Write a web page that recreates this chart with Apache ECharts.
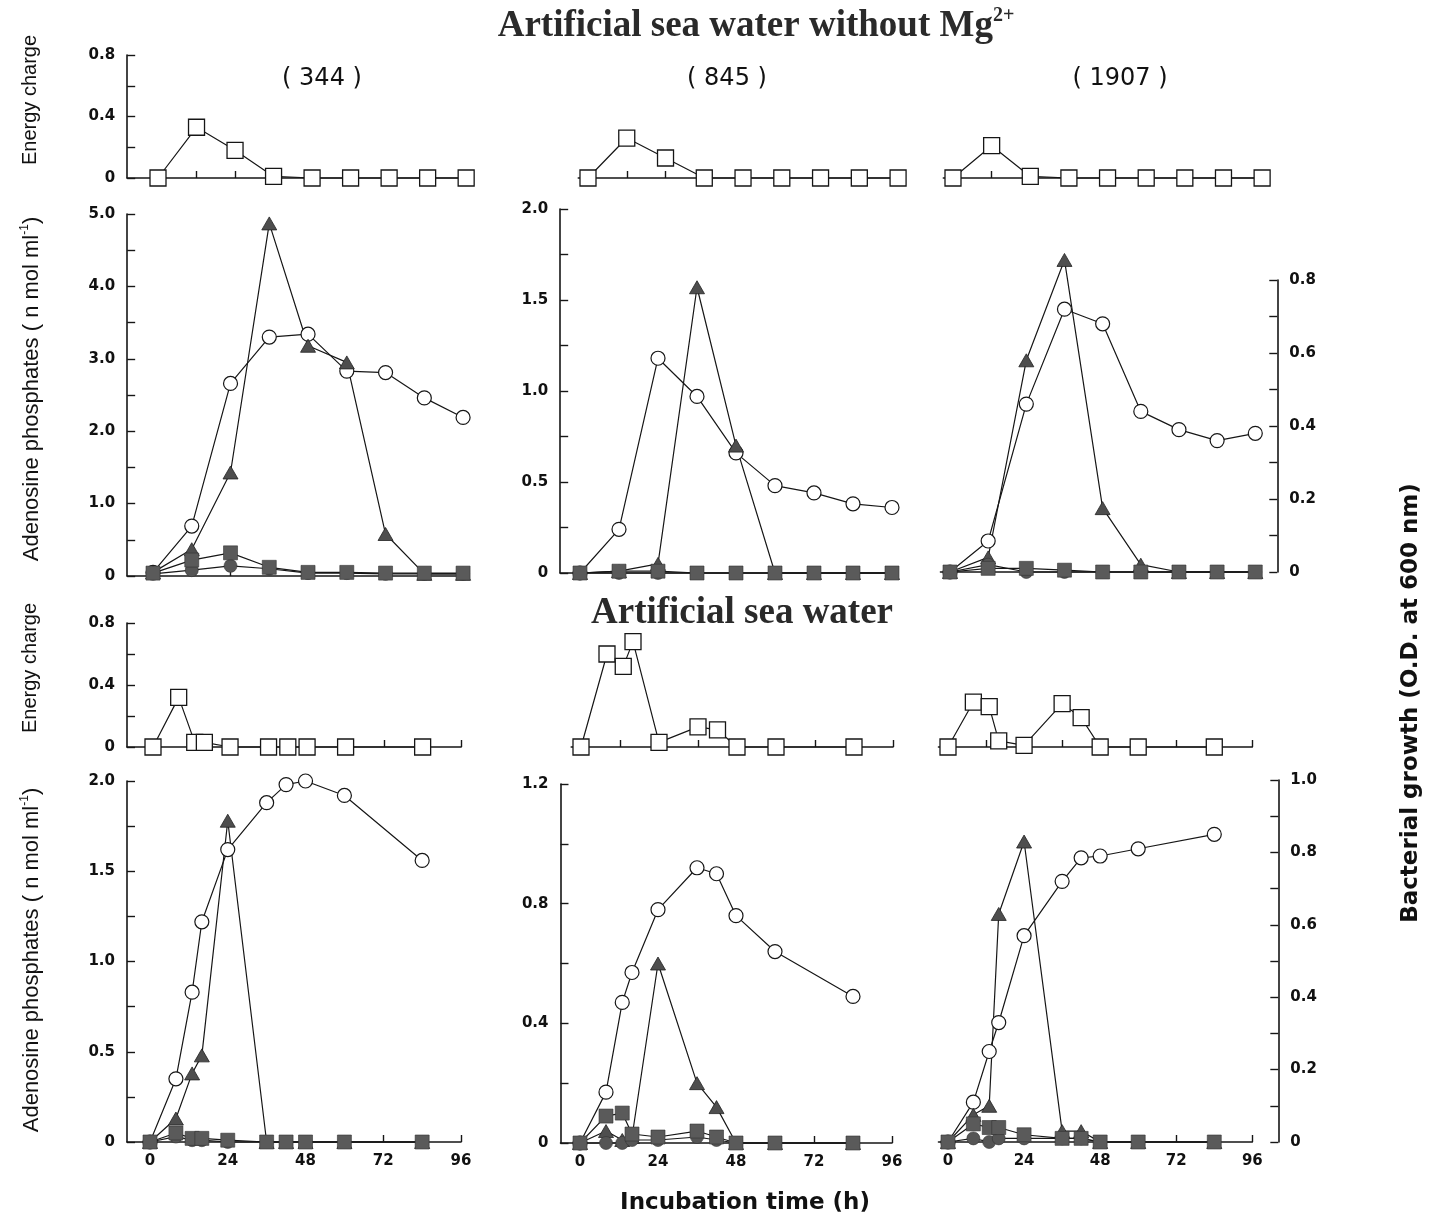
<!DOCTYPE html>
<html><head><meta charset="utf-8">
<script src="https://cdn.jsdelivr.net/npm/echarts@6/dist/echarts.min.js"></script>
<style>html,body{margin:0;padding:0;background:#fff}#c{width:1433px;height:1220px}</style>
</head><body><div id="c"></div>
<script>
// ---------- DATA ----------
const hoursMgFree = [0, 12, 24, 36, 48, 60, 72, 84, 96];
const hoursASW = [0, 8, 13, 16, 24, 36, 42, 48, 60, 84];
const strains = ['( 344 )', '( 845 )', '( 1907 )'];
const xTickLabels = [0, 24, 48, 72, 96];

// Energy charge, artificial sea water without Mg2+
const ecMg344 = [0, 0.33, 0.18, 0.01, 0, 0, 0, 0, 0];
const ecMg845 = [0, 0.26, 0.13, 0, 0, 0, 0, 0, 0];
const ecMg1907 = [0, 0.21, 0.01, 0, 0, 0, 0, 0, 0];
// Energy charge, artificial sea water
const ecAsw344 = [0, 0.32, 0.03, 0.03, 0, 0, 0, 0, 0, 0];
const ecAsw845 = [0, 0.60, 0.52, 0.68, 0.03, 0.13, 0.11, 0, 0, 0];
const ecAsw1907 = [0, 0.29, 0.26, 0.04, 0.01, 0.28, 0.19, 0, 0, 0];

// Without Mg2+ : open circle (growth), filled triangle, filled square, filled circle
const growthMg344 = [0.05, 0.69, 2.66, 3.30, 3.34, 2.83, 2.81, 2.46, 2.19];
const triMg344 = [0.05, 0.37, 1.43, 4.87, 3.18, 2.95, 0.58, 0.03, 0.03];
const sqMg344 = [0.04, 0.22, 0.32, 0.12, 0.05, 0.05, 0.04, 0.04, 0.04];
const dotMg344 = [0.03, 0.08, 0.14, 0.10, 0.04, 0.04, 0.03, 0.03, 0.03];

const growthMg845 = [0, 0.24, 1.18, 0.97, 0.66, 0.48, 0.44, 0.38, 0.36];
const triMg845 = [0, 0.01, 0.05, 1.57, 0.70, 0, 0, 0, 0];
const sqMg845 = [0, 0.01, 0.01, 0, 0, 0, 0, 0, 0];
const dotMg845 = [0, 0, 0, 0, 0, 0, 0, 0, 0];

const growthMg1907 = [0, 0.085, 0.46, 0.72, 0.68, 0.44, 0.39, 0.36, 0.38];
const triMg1907 = [0, 0.04, 0.58, 0.855, 0.175, 0.02, 0, 0, 0];
const sqMg1907 = [0, 0.01, 0.01, 0.005, 0, 0, 0, 0, 0];
const dotMg1907 = [0, 0.02, 0, 0, 0, 0, 0, 0, 0];

// Artificial sea water
const growthAsw344 = [0, 0.35, 0.83, 1.22, 1.62, 1.88, 1.98, 2.0, 1.92, 1.56];
const triAsw344 = [0, 0.13, 0.38, 0.48, 1.78, 0, 0, 0, 0, 0];
const sqAsw344 = [0, 0.05, 0.02, 0.02, 0.01, 0, 0, 0, 0, 0];
const dotAsw344 = [0, 0.03, 0.01, 0.01, 0, 0, 0, 0, 0, 0];

const growthAsw845 = [0, 0.17, 0.47, 0.57, 0.78, 0.92, 0.90, 0.76, 0.64, 0.49];
const triAsw845 = [0, 0.04, 0.01, 0.02, 0.60, 0.20, 0.12, 0, 0, 0];
const sqAsw845 = [0, 0.09, 0.10, 0.03, 0.02, 0.04, 0.02, 0, 0, 0];
const dotAsw845 = [0, 0, 0, 0.01, 0.01, 0.02, 0.01, 0, 0, 0];

const growthAsw1907 = [0, 0.11, 0.25, 0.33, 0.57, 0.72, 0.785, 0.79, 0.81, 0.85];
const triAsw1907 = [0, 0.075, 0.10, 0.63, 0.83, 0.03, 0.03, 0, 0, 0];
const sqAsw1907 = [0, 0.05, 0.04, 0.04, 0.02, 0.01, 0.01, 0, 0, 0];
const dotAsw1907 = [0, 0.01, 0, 0.01, 0.01, 0.01, 0.01, 0, 0, 0];

// ---------- LAYOUT ----------
const SANS = '"Liberation Sans", Arial, Helvetica, sans-serif';
const WIDE = '"DejaVu Sans", Verdana, sans-serif';
const SERIF = '"Liberation Serif", "Times New Roman", serif';
const INK = '#161616';

const panels = [
  // row A: energy charge (without Mg)
  {x0:158, s:3.21, xMin:-9.6, top:55, bottom:178, yMax:0.8, yInt:0.2, lab:0.4, yShow:'left', xTicks:12, xLab:false,
   sets:[['ec', hoursMgFree, ecMg344]]},
  {x0:588, s:3.23, xMin:-3, top:55, bottom:178, yMax:0.8, yInt:0.2, lab:0.4, yShow:null, xTicks:12, xLab:false,
   sets:[['ec', hoursMgFree, ecMg845]]},
  {x0:953, s:3.22, xMin:-3, top:55, bottom:178, yMax:0.8, yInt:0.2, lab:0.4, yShow:null, xTicks:12, xLab:false,
   sets:[['ec', hoursMgFree, ecMg1907]]},
  // row B: adenosine phosphates (without Mg)
  {x0:153, s:3.23, xMin:-8, top:214, bottom:576, yMax:5.0, yInt:0.5, lab:1.0, yShow:'left', xTicks:24, xLab:false,
   sets:[['od', hoursMgFree, growthMg344], ['tri', hoursMgFree, triMg344], ['dot', hoursMgFree, dotMg344], ['sq', hoursMgFree, sqMg344]]},
  {x0:580, s:3.25, xMin:-6.1, top:209, bottom:573, yMax:2.0, yInt:0.25, lab:0.5, yShow:'left', xTicks:24, xLab:false,
   sets:[['od', hoursMgFree, growthMg845], ['tri', hoursMgFree, triMg845], ['dot', hoursMgFree, dotMg845], ['sq', hoursMgFree, sqMg845]]},
  {x0:950, s:3.18, xMin:-3, top:280, bottom:572, yMax:0.8, yInt:0.1, lab:0.2, yShow:'right', yOffset:22, xTicks:24, xLab:false,
   sets:[['od', hoursMgFree, growthMg1907], ['tri', hoursMgFree, triMg1907], ['dot', hoursMgFree, dotMg1907], ['sq', hoursMgFree, sqMg1907]]},
  // row C: energy charge (artificial sea water)
  {x0:153, s:3.21, xMin:-8.1, top:623, bottom:747, yMax:0.8, yInt:0.2, lab:0.4, yShow:'left', xTicks:12, xLab:false,
   sets:[['ec', hoursASW, ecAsw344]]},
  {x0:581, s:3.25, xMin:-3, top:623, bottom:747, yMax:0.8, yInt:0.2, lab:0.4, yShow:null, xTicks:12, xLab:false,
   sets:[['ec', hoursASW, ecAsw845]]},
  {x0:948, s:3.17, xMin:-3, top:623, bottom:747, yMax:0.8, yInt:0.2, lab:0.4, yShow:null, xTicks:12, xLab:false,
   sets:[['ec', hoursASW, ecAsw1907]]},
  // row D: adenosine phosphates (artificial sea water)
  {x0:150, s:3.24, xMin:-7.1, top:781, bottom:1142, yMax:2.0, yInt:0.25, lab:0.5, yShow:'left', xTicks:24, xLab:true,
   sets:[['od', hoursASW, growthAsw344], ['tri', hoursASW, triAsw344], ['dot', hoursASW, dotAsw344], ['sq', hoursASW, sqAsw344]]},
  {x0:580, s:3.25, xMin:-6, top:784, bottom:1143, yMax:1.2, yInt:0.2, lab:0.4, yShow:'left', xTicks:24, xLab:true,
   sets:[['od', hoursASW, growthAsw845], ['tri', hoursASW, triAsw845], ['dot', hoursASW, dotAsw845], ['sq', hoursASW, sqAsw845]]},
  {x0:948, s:3.17, xMin:-3, top:780, bottom:1142, yMax:1.0, yInt:0.1, lab:0.2, yShow:'right', yOffset:26, xTicks:24, xLab:true,
   sets:[['od', hoursASW, growthAsw1907], ['tri', hoursASW, triAsw1907], ['dot', hoursASW, dotAsw1907], ['sq', hoursASW, sqAsw1907]]}
];

const markerStyles = {
  ec:  {symbol:'rect', symbolSize:16, itemStyle:{color:'#fff', borderColor:INK, borderWidth:1.3}},
  od:  {symbol:'circle', symbolSize:14, itemStyle:{color:'#fff', borderColor:INK, borderWidth:1.2}},
  tri: {symbol:'triangle', symbolSize:[15,13], itemStyle:{color:'#4e4e4e', borderColor:'#222', borderWidth:0.8}},
  sq:  {symbol:'rect', symbolSize:14, itemStyle:{color:'#5a5a5a', borderColor:'#333', borderWidth:0.6}},
  dot: {symbol:'circle', symbolSize:13, itemStyle:{color:'#555', borderColor:'#333', borderWidth:0.6}}
};

const grid = [], xAxis = [], yAxis = [], series = [];
const range = (a, b, st) => { const r = []; for (let v = a; v <= b + 1e-9; v += st) r.push(Math.round(v*1000)/1000); return r; };
const labelFont = {color:'#111', fontFamily:WIDE, fontWeight:'bold', fontSize:15};

panels.forEach((p, i) => {
  const left = p.x0 + p.xMin * p.s;
  const width = (96 - p.xMin) * p.s;
  grid.push({left: left, top: p.top, width: width, height: p.bottom - p.top, containLabel: false});
  xAxis.push({
    type:'value', gridIndex:i, min:p.xMin, max:96,
    axisLine:{show:true, onZero:false, lineStyle:{color:INK, width:1.6}},
    axisTick:{show:true, inside:true, length:7, customValues: range(0, 96, p.xTicks), lineStyle:{color:INK, width:1.4}},
    axisLabel:Object.assign({show:p.xLab, customValues: xTickLabels, margin:12}, labelFont),
    splitLine:{show:false}
  });
  const fmt = v => {
    const r = v / p.lab;
    if (Math.abs(r - Math.round(r)) > 1e-6) return '';
    if (Math.abs(v) < 1e-9) return '0';
    return v.toFixed(1);
  };
  yAxis.push({
    type:'value', gridIndex:i, min:0, max:p.yMax, interval:p.yInt,
    show: !!p.yShow, position: p.yShow === 'right' ? 'right' : 'left', offset: p.yOffset || 0,
    axisLine:{show:true, onZero:false, lineStyle:{color:INK, width:1.6}},
    axisTick:{show:true, inside:true, length:8, lineStyle:{color:INK, width:1.4}},
    axisLabel:Object.assign({show:true, formatter:fmt, margin:12}, labelFont),
    splitLine:{show:false}
  });
  p.sets.forEach(([kind, xs, ys]) => {
    const m = markerStyles[kind];
    series.push({
      type:'line', xAxisIndex:i, yAxisIndex:i, clip:false, silent:true,
      data: xs.map((x, k) => [x, ys[k]]),
      symbol:m.symbol, symbolSize:m.symbolSize, showSymbol:true, itemStyle:m.itemStyle,
      lineStyle:{color:INK, width:1.2}, z: kind === 'sq' ? 5 : (kind === 'dot' ? 4 : 3),
      animation:false
    });
  });
});

const adenoRich = {m:{font:'22px ' + SANS, fill:'#111', lineHeight:26}, s:{font:'12px ' + SANS, fill:'#111', lineHeight:13, verticalAlign:'top'}};

const graphic = [
  {type:'text', x:756, y:26, style:{
    text:'{m|Artificial sea water without Mg}{s|2+}', align:'center', verticalAlign:'middle',
    rich:{m:{font:'bold 37px ' + SERIF, fill:'#2a2a2a', lineHeight:40}, s:{font:'bold 20px ' + SERIF, fill:'#2a2a2a', lineHeight:18, verticalAlign:'top'}}
  }},
  {type:'text', x:742, y:613, style:{text:'Artificial sea water', font:'bold 37px ' + SERIF, fill:'#2a2a2a', align:'center', verticalAlign:'middle'}},
  {type:'text', x:322, y:79, style:{text:strains[0], font:'24px ' + WIDE, fill:'#111', align:'center', verticalAlign:'middle'}},
  {type:'text', x:727, y:79, style:{text:strains[1], font:'24px ' + WIDE, fill:'#111', align:'center', verticalAlign:'middle'}},
  {type:'text', x:1120, y:79, style:{text:strains[2], font:'24px ' + WIDE, fill:'#111', align:'center', verticalAlign:'middle'}},
  {type:'text', x:30, y:100, rotation:Math.PI/2, style:{text:'Energy charge', font:'20px ' + SANS, fill:'#111', align:'center', verticalAlign:'middle'}},
  {type:'text', x:30, y:668, rotation:Math.PI/2, style:{text:'Energy charge', font:'20px ' + SANS, fill:'#111', align:'center', verticalAlign:'middle'}},
  {type:'text', x:32, y:389, rotation:Math.PI/2, style:{
    text:'{m|Adenosine phosphates ( n mol ml}{s|-1}{m|)}', align:'center', verticalAlign:'middle', rich:adenoRich
  }},
  {type:'text', x:32, y:960, rotation:Math.PI/2, style:{
    text:'{m|Adenosine phosphates ( n mol ml}{s|-1}{m|)}', align:'center', verticalAlign:'middle', rich:adenoRich
  }},
  {type:'text', x:1411, y:703, rotation:Math.PI/2, style:{text:'Bacterial growth (O.D. at 600 nm)', font:'bold 23px ' + WIDE, fill:'#111', align:'center', verticalAlign:'middle'}},
  {type:'text', x:745, y:1203, style:{text:'Incubation time (h)', font:'bold 23px ' + WIDE, fill:'#111', align:'center', verticalAlign:'middle'}}
];

const chart = echarts.init(document.getElementById('c'), null, {renderer:'canvas'});
chart.setOption({animation:false, backgroundColor:'#fff', grid, xAxis, yAxis, series, graphic});
</script>
</body></html>
